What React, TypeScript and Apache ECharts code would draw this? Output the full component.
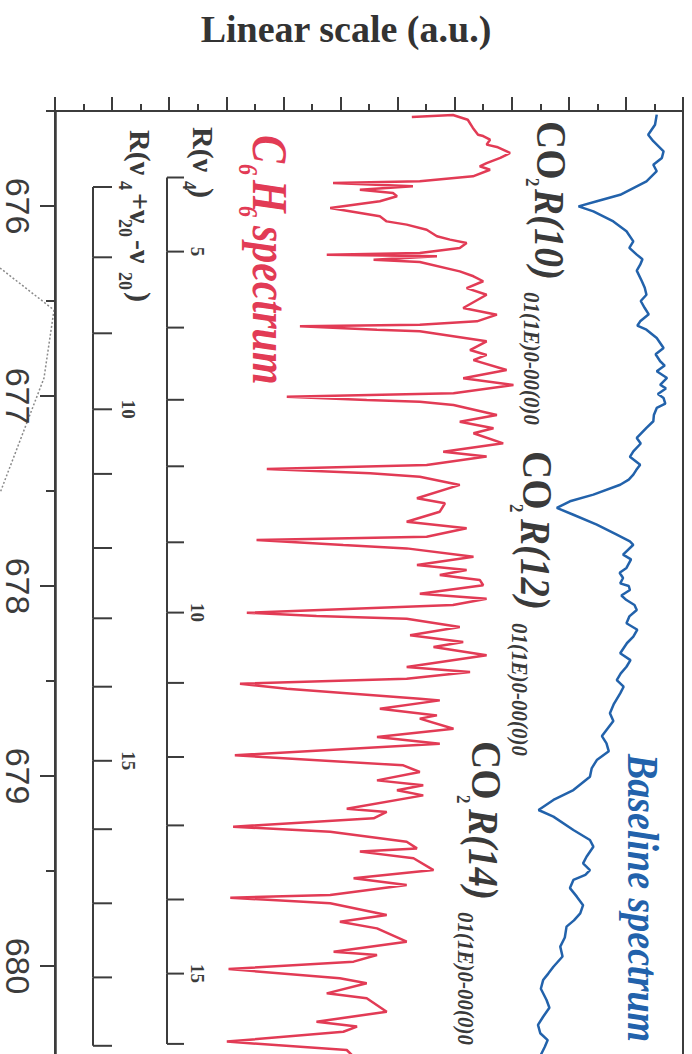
import React, { useEffect, useRef } from "react";
import * as echarts from "echarts";

// Wavenumber axis (cm-1), drawn vertically
const wavenumberTicks = [676, 677, 678, 679, 680];
const wavenumberHalfTicks = [675.5, 676.5, 677.5, 678.5, 679.5, 680.5];

// C6H6 spectrum: wavenumber (cm-1) and signal (a.u.)
const benzeneWavenumber = [
  675.532, 675.521, 675.546, 675.589, 675.625, 675.632, 675.651, 675.677, 675.689, 675.721,
  675.747, 675.774, 675.791, 675.809, 675.844, 675.87, 675.879, 675.896, 675.914, 675.932,
  675.949, 675.975, 676.011, 676.054, 676.081, 676.098, 676.125, 676.159, 676.177, 676.195,
  676.221, 676.247, 676.256, 676.265, 676.283, 676.295, 676.344, 676.37, 676.396, 676.432,
  676.467, 676.537, 676.572, 676.607, 676.625, 676.633, 676.651, 676.659, 676.712, 676.758,
  676.784, 676.811, 676.863, 676.907, 676.942, 676.986, 677.004, 677.021, 677.03, 677.047,
  677.1, 677.135, 677.17, 677.196, 677.249, 677.293, 677.319, 677.363, 677.384, 677.407,
  677.425, 677.468, 677.538, 677.565, 677.609, 677.662, 677.696, 677.741, 677.758, 677.784,
  677.802, 677.846, 677.889, 677.916, 677.942, 677.968, 677.996, 678.041, 678.067, 678.1,
  678.141, 678.158, 678.172, 678.216, 678.259, 678.295, 678.321, 678.365, 678.426, 678.453,
  678.488, 678.514, 678.541, 678.593, 678.602, 678.646, 678.681, 678.698, 678.751, 678.795,
  678.83, 678.891, 678.944, 678.979, 679.023, 679.049, 679.075, 679.102, 679.172, 679.189,
  679.223, 679.267, 679.293, 679.346, 679.381, 679.398, 679.433, 679.495, 679.538, 679.574,
  679.626, 679.641, 679.67, 679.732, 679.767, 679.802, 679.872, 679.925, 679.942, 679.977,
  680.016, 680.065, 680.091, 680.144, 680.17, 680.241, 680.293, 680.319, 680.346, 680.398,
  680.442, 680.474,
];
const benzeneSignal = [
  62.5, 69.7, 72.3, 73.2, 74.1, 75.0, 76.2, 75.6, 77.4, 79.7,
  78.0, 75.6, 74.4, 76.2, 73.2, 63.9, 48.7, 62.7, 53.4, 59.2,
  59.9, 56.9, 48.2, 56.9, 58.1, 61.6, 65.1, 66.9, 69.2, 72.1,
  70.9, 63.9, 47.6, 66.9, 55.8, 63.9, 70.9, 73.3, 75.0, 72.1,
  75.6, 71.5, 77.4, 73.9, 63.9, 42.9, 56.4, 63.9, 75.6, 72.7,
  75.6, 73.3, 79.1, 71.5, 80.3, 69.8, 40.6, 54.6, 63.9, 69.8,
  77.4, 70.9, 76.8, 73.3, 78.5, 68.0, 75.6, 65.1, 37.1, 55.2,
  63.9, 70.9, 63.4, 68.3, 67.4, 61.6, 72.1, 65.1, 35.3, 50.5,
  61.6, 73.3, 63.4, 72.1, 67.4, 74.4, 75.0, 63.9, 75.6, 69.7,
  33.6, 45.8, 61.6, 70.9, 62.2, 71.5, 66.3, 75.6, 61.6, 72.7,
  61.6, 32.4, 40.6, 63.9, 67.4, 56.9, 66.9, 63.9, 69.8, 56.4,
  67.4, 31.5, 61.0, 63.9, 56.4, 64.5, 59.9, 64.5, 51.1, 58.1,
  55.8, 31.2, 48.2, 61.6, 63.4, 53.4, 62.8, 66.3, 52.3, 61.6,
  48.2, 30.7, 48.2, 58.1, 49.9, 56.4, 61.6, 48.8, 56.4, 52.3,
  30.4, 49.9, 54.6, 47.6, 54.6, 58.1, 45.8, 52.9, 50.5, 30.1,
  51.1, 52.2,
];

// Baseline spectrum: wavenumber (cm-1) and signal (a.u.)
const baselineWavenumber = [
  675.519, 675.572, 675.625, 675.659, 675.712, 675.747, 675.783, 675.817, 675.87, 675.941,
  675.975, 676.002, 676.028, 676.081, 676.133, 676.186, 676.22, 676.256, 676.28, 676.309,
  676.34, 676.396, 676.43, 676.467, 676.5, 676.537, 676.57, 676.607, 676.63, 676.651,
  676.695, 676.747, 676.78, 676.817, 676.84, 676.87, 676.905, 676.941, 676.96, 676.99,
  677.011, 677.04, 677.063, 677.1, 677.133, 677.168, 677.221, 677.25, 677.291, 677.32,
  677.362, 677.39, 677.414, 677.44, 677.467, 677.519, 677.554, 677.589, 677.625, 677.677,
  677.73, 677.765, 677.783, 677.835, 677.86, 677.905, 677.93, 677.958, 677.986, 678.0,
  678.021, 678.05, 678.074, 678.1, 678.126, 678.16, 678.196, 678.23, 678.267, 678.3,
  678.354, 678.39, 678.425, 678.46, 678.495, 678.53, 678.565, 678.62, 678.67, 678.71,
  678.758, 678.79, 678.828, 678.87, 678.916, 678.96, 679.004, 679.074, 679.126, 679.179,
  679.214, 679.284, 679.337, 679.372, 679.425, 679.46, 679.495, 679.52, 679.547, 679.59,
  679.635, 679.68, 679.723, 679.76, 679.793, 679.85, 679.898, 679.95, 680.004, 680.04,
  680.074, 680.12, 680.179, 680.22, 680.267, 680.31, 680.354, 680.39, 680.425, 680.474,
];
const baselineSignal = [
  105.4, 105.1, 103.9, 104.8, 106.6, 106.3, 104.8, 105.4, 103.6, 99.0,
  94.9, 91.7, 94.3, 97.8, 100.1, 101.3, 100.6, 101.9, 102.9, 102.5,
  101.9, 102.8, 103.3, 103.6, 102.6, 103.3, 104.0, 102.5, 102.0, 103.6,
  105.4, 106.6, 105.2, 106.0, 106.8, 105.4, 107.2, 106.0, 107.0, 105.6,
  106.6, 106.9, 105.4, 104.9, 104.8, 103.6, 101.9, 102.6, 101.3, 100.7,
  102.5, 101.8, 101.3, 100.5, 99.0, 94.3, 90.2, 87.9, 90.8, 94.9,
  98.4, 100.7, 101.3, 99.5, 100.9, 100.1, 98.9, 99.5, 99.0, 100.5,
  100.7, 99.2, 100.1, 101.5, 101.9, 100.6, 100.1, 102.0, 101.3, 100.2,
  99.0, 100.8, 100.1, 99.1, 98.4, 99.6, 99.0, 97.9, 97.2, 97.8,
  96.6, 95.8, 96.6, 97.0, 94.9, 94.0, 93.7, 90.8, 87.3, 84.7,
  87.3, 90.8, 93.7, 94.3, 93.1, 92.5, 93.7, 92.9, 90.8, 90.2,
  91.4, 92.5, 92.0, 90.9, 89.6, 89.3, 88.5, 88.9, 87.3, 86.4,
  85.5, 85.1, 86.1, 86.6, 85.5, 84.6, 85.0, 86.3, 85.8, 85.0,
];

// R-branch line positions, R(v4) band
const rNu4J = [4, 5, 6, 7, 8, 9, 10, 11, 12, 13, 14, 15, 16];
const rNu4Wavenumber = [
  675.85, 676.24, 676.64, 677.02, 677.37, 677.77, 678.14, 678.51, 678.9, 679.26, 679.65, 680.04, 680.41,
];
// R-branch line positions, R(v4+v20-v20) hot band
const rHotJ = [7, 8, 9, 10, 11, 12, 13, 14, 15, 16, 17, 18, 19];
const rHotWavenumber = [
  675.9, 676.27, 676.67, 677.07, 677.41, 677.8, 678.17, 678.53, 678.92, 679.28, 679.67, 680.06, 680.42,
];

const AXIS = "#3c3c3c";
const RED = "#e23b55";
const BLUE = "#2262ab";
const SERIF = "'Liberation Serif', 'Times New Roman', serif";

// Text rotated a quarter turn clockwise, reading top to bottom
function vtext(text: string, x: number, y: number, font: string, fill: string, stretch = 1) {
  return {
    type: "text",
    x,
    y,
    rotation: -Math.PI / 2,
    scaleY: stretch,
    silent: true,
    z: 10,
    style: {
      text,
      font,
      fill,
      align: "left",
      verticalAlign: "middle",
      textAlign: "left",
      textVerticalAlign: "middle",
    },
  };
}

function combSeries(
  name: string,
  positions: number[],
  js: number[],
  spineOffset: number,
  tickLen: number,
  labelOffset: number
) {
  return {
    name,
    type: "custom",
    coordinateSystem: "cartesian2d",
    xAxisIndex: 0,
    yAxisIndex: 0,
    clip: false,
    data: positions.map((v, i) => [0, v, js[i]]),
    renderItem: (params: any, api: any) => {
      const i = params.dataIndex;
      const gx = params.coordSys.x;
      const y = api.coord([0, api.value(1)])[1];
      const x0 = gx + spineOffset;
      const line = { stroke: AXIS, lineWidth: 2 };
      const children: any[] = [
        { type: "line", shape: { x1: x0, y1: y, x2: x0 + tickLen, y2: y }, style: line },
      ];
      if (i > 0) {
        const yPrev = api.coord([0, positions[i - 1]])[1];
        children.push({ type: "line", shape: { x1: x0, y1: yPrev, x2: x0, y2: y }, style: line });
      }
      const j = api.value(2);
      if (j % 5 === 0) {
        children.push({
          type: "text",
          x: gx + labelOffset,
          y,
          rotation: -Math.PI / 2,
          style: {
            text: String(j),
            font: `bold 19px ${SERIF}`,
            fill: AXIS,
            align: "center",
            verticalAlign: "middle",
            textAlign: "center",
            textVerticalAlign: "middle",
          },
        });
      }
      return { type: "group", children };
    },
  };
}

export default function App() {
  const ref = useRef<HTMLDivElement>(null);

  useEffect(() => {
    if (!ref.current) return;
    const chart = echarts.init(ref.current, null, { renderer: "svg" });

    const main = `bold 39px ${SERIF}`;
    const mainIt = `italic bold 39px ${SERIF}`;
    const sub = `bold 17px ${SERIF}`;
    const subIt = `italic bold 21px ${SERIF}`;
    const grey = "#3a3a3a";

    const option: any = {
      animation: false,
      backgroundColor: "#ffffff",
      grid: {
        left: 55,
        top: 111,
        width: 628,
        height: 969,
        show: true,
        borderColor: AXIS,
        borderWidth: 2,
        backgroundColor: "transparent",
      },
      xAxis: {
        type: "value",
        position: "top",
        min: 0,
        max: 110,
        interval: 10,
        axisLine: { show: true, onZero: false, lineStyle: { color: AXIS, width: 2 } },
        axisTick: { show: true, inside: false, length: 14, lineStyle: { color: AXIS, width: 2 } },
        minorTick: { show: true, splitNumber: 2, length: 7, lineStyle: { color: AXIS, width: 2 } },
        axisLabel: { show: false },
        splitLine: { show: false },
        minorSplitLine: { show: false },
      },
      yAxis: [
        {
          type: "value",
          position: "left",
          inverse: true,
          min: 675.5,
          max: 680.6,
          axisLine: { show: true, onZero: false, lineStyle: { color: AXIS, width: 2.5 } },
          axisTick: {
            show: true,
            length: 15,
            customValues: wavenumberTicks,
            lineStyle: { color: AXIS, width: 2 },
          },
          axisLabel: {
            show: true,
            customValues: wavenumberTicks,
            rotate: -90,
            margin: 20,
            fontFamily: "'Liberation Sans', Arial, sans-serif",
            fontSize: 34,
            color: AXIS,
          },
          splitLine: { show: false },
        },
        {
          type: "value",
          position: "left",
          inverse: true,
          min: 675.5,
          max: 680.6,
          axisLine: { show: false, onZero: false },
          axisTick: {
            show: true,
            length: 9,
            customValues: wavenumberHalfTicks,
            lineStyle: { color: AXIS, width: 2 },
          },
          axisLabel: { show: false },
          splitLine: { show: false },
        },
      ],
      series: [
        {
          name: "Baseline spectrum",
          type: "line",
          xAxisIndex: 0,
          yAxisIndex: 0,
          showSymbol: false,
          symbol: "none",
          lineStyle: { color: BLUE, width: 2.5 },
          data: baselineWavenumber.map((w, i) => [baselineSignal[i], w]),
          z: 3,
        },
        {
          name: "C6H6 spectrum",
          type: "line",
          xAxisIndex: 0,
          yAxisIndex: 0,
          showSymbol: false,
          symbol: "none",
          lineStyle: { color: RED, width: 2.5 },
          data: benzeneWavenumber.map((w, i) => [benzeneSignal[i], w]),
          z: 3,
        },
        combSeries("R(v4)", rNu4Wavenumber, rNu4J, 112, 17, 142),
        combSeries("R(v4+v20-v20)", rHotWavenumber, rHotJ, 38, 19, 73),
      ],
      graphic: [
        {
          type: "text",
          x: 346,
          y: 29,
          silent: true,
          style: {
            text: "Linear scale (a.u.)",
            font: `bold 38px ${SERIF}`,
            fill: "#333333",
            align: "center",
            verticalAlign: "middle",
            textAlign: "center",
            textVerticalAlign: "middle",
          },
        },
        // zoom connector lines from the neighbouring panel
        {
          type: "line",
          silent: true,
          shape: { x1: 0, y1: 268, x2: 54, y2: 310 },
          style: { stroke: "#8a8a8a", lineWidth: 1.5, lineDash: [2, 2] },
        },
        {
          type: "polyline",
          silent: true,
          shape: { points: [[54, 310], [44, 378], [0, 493]] },
          style: { stroke: "#8a8a8a", lineWidth: 1.5, lineDash: [2, 2], fill: "none" },
        },
        // CO2 line labels
        vtext("CO", 552, 121, main, grey, 1.1),
        vtext("2", 532, 178, sub, grey, 1.1),
        vtext("R(10)", 550, 189, mainIt, grey, 1.1),
        vtext("01(1E)0-00(0)0", 532, 292, subIt, grey, 1.1),
        vtext("CO", 538, 451, main, grey, 1.1),
        vtext("2", 516, 504, sub, grey, 1.1),
        vtext("R(12)", 536, 519, mainIt, grey, 1.1),
        vtext("01(1E)0-00(0)0", 520, 623, subIt, grey, 1.1),
        vtext("CO", 487, 741, main, grey, 1.1),
        vtext("2", 463, 795, sub, grey, 1.1),
        vtext("R(14)", 484, 809, mainIt, grey, 1.1),
        vtext("01(1E)0-00(0)0", 466, 912, subIt, grey, 1.1),
        // spectrum names
        vtext("Baseline spectrum", 642, 754, `italic bold 38px ${SERIF}`, BLUE, 1.15),
        vtext("C", 270, 135, `italic bold 42px ${SERIF}`, RED, 1.2),
        vtext("6", 248, 164, `italic bold 22px ${SERIF}`, RED, 1.2),
        vtext("H", 270, 180, `italic bold 42px ${SERIF}`, RED, 1.2),
        vtext("6", 248, 206, `italic bold 22px ${SERIF}`, RED, 1.2),
        vtext("spectrum", 270, 226, `italic bold 42px ${SERIF}`, RED, 1.2),
        // band labels for the R-branch combs
        vtext("R(ν", 203, 127, `bold 30px ${SERIF}`, grey),
        vtext("4", 189, 181, `bold 18px ${SERIF}`, grey),
        vtext(")", 203, 188, `bold 30px ${SERIF}`, grey),
        vtext("R(ν", 140, 130, `bold 30px ${SERIF}`, grey),
        vtext("4", 125, 181, `bold 18px ${SERIF}`, grey),
        vtext("+ν", 140, 193, `bold 30px ${SERIF}`, grey),
        vtext("20", 125, 219, `bold 18px ${SERIF}`, grey),
        vtext("-ν", 140, 240, `bold 30px ${SERIF}`, grey),
        vtext("20", 125, 272, `bold 18px ${SERIF}`, grey),
        vtext(")", 140, 292, `bold 30px ${SERIF}`, grey),
      ],
    };

    chart.setOption(option);
    return () => chart.dispose();
  }, []);

  // The chart runs past the bottom of the window so its lower frame edge stays out of view
  return (
    <div
      ref={ref}
      style={{ position: "fixed", left: 0, top: 0, width: 692, height: 1100, background: "#fff" }}
    />
  );
}
